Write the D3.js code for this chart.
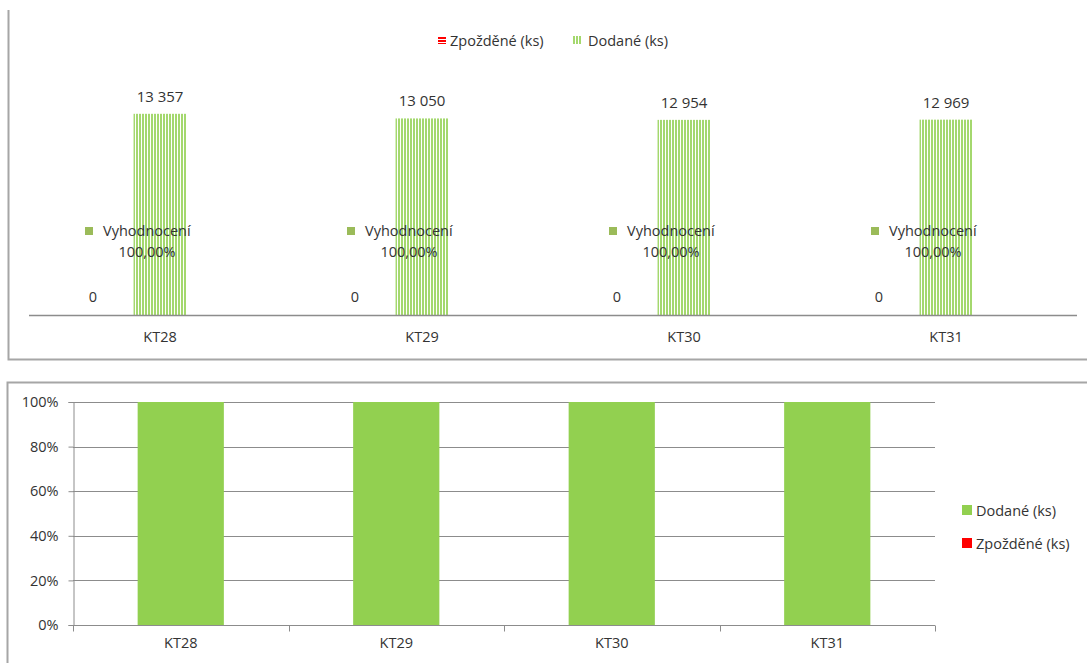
<!DOCTYPE html>
<html>
<head>
<meta charset="utf-8">
<script src="https://cdn.jsdelivr.net/npm/d3@7"></script>
<style>
  body { margin: 0; background: #fff; }
  svg text { font-family: "Open Sans", sans-serif; fill: #333; }
</style>
</head>
<body>
<div id="chart"></div>
<script>
var categories = ["KT28", "KT29", "KT30", "KT31"];
var dodane = [13357, 13050, 12954, 12969];
var zpozdene = [0, 0, 0, 0];
var vyhodnoceni = [1, 1, 1, 1];
var series = ["Zpožděné (ks)", "Dodané (ks)"];
var pctTicks = [0, 0.2, 0.4, 0.6, 0.8, 1];

var green = "#92d050", red = "#ff0000", gray = "#8c8c8c", frame = "#a6a6a6";
var fs = 14.5;

var cz = d3.formatLocale({ decimal: ",", thousands: "\u00a0", grouping: [3], currency: ["", " Kč"] });
var fmtNum = cz.format(",d");
var fmtPct = cz.format(".2%");

var svg = d3.select("#chart").append("svg")
    .attr("width", 1087).attr("height", 663);

var defs = svg.append("defs");
var vpat = defs.append("pattern").attr("id", "vhatch")
    .attr("patternUnits", "userSpaceOnUse").attr("width", 3).attr("height", 4);
vpat.append("rect").attr("width", 3).attr("height", 4).attr("fill", "#ffffff");
vpat.append("rect").attr("width", 2).attr("height", 4).attr("fill", "#a4d86e");
var hpat = defs.append("pattern").attr("id", "hhatch")
    .attr("patternUnits", "userSpaceOnUse").attr("width", 4).attr("height", 3);
hpat.append("rect").attr("width", 4).attr("height", 3).attr("fill", "#ffffff");
hpat.append("rect").attr("width", 4).attr("height", 2).attr("fill", red);

// ---------- top chart ----------
svg.append("path")
    .attr("d", "M8.5,10 V359.5 H1087")
    .attr("fill", "none").attr("stroke", frame).attr("stroke-width", 2);

var topG = svg.append("g");
var x0 = d3.scaleBand().domain(categories).range([29, 1077]);
var x1 = d3.scaleBand().domain(series).range([-93.5, 26.5]).paddingInner(0.21);
var y = d3.scaleLinear().domain([0, 16000]).range([315, 74]);

var rows = categories.map(function(c, i) {
    return { cat: c, z: zpozdene[i], d: dodane[i], v: vyhodnoceni[i] };
});

var cg = topG.selectAll("g.cat").data(rows).enter().append("g")
    .attr("class", "cat")
    .attr("transform", function(d) { return "translate(" + (x0(d.cat) + x0.bandwidth() / 2) + ",0)"; });

cg.append("rect")
    .attr("x", x1("Dodané (ks)"))
    .attr("width", x1.bandwidth())
    .attr("y", function(d) { return y(d.d); })
    .attr("height", function(d) { return y(0) - y(d.d); })
    .attr("fill", "url(#vhatch)");
cg.append("rect")
    .attr("x", x1("Zpožděné (ks)"))
    .attr("width", x1.bandwidth())
    .attr("y", function(d) { return y(d.z); })
    .attr("height", function(d) { return y(0) - y(d.z); })
    .attr("fill", "url(#hhatch)");

cg.append("text")
    .attr("x", x1("Dodané (ks)") + x1.bandwidth() / 2)
    .attr("y", function(d) { return y(d.d) - 12; })
    .attr("text-anchor", "middle").attr("font-size", 15)
    .text(function(d) { return fmtNum(d.d); });
cg.append("text")
    .attr("x", -67)
    .attr("y", function(d) { return y(d.z) - 13; })
    .attr("text-anchor", "middle").attr("font-size", fs)
    .text(function(d) { return fmtNum(d.z); });

// Vyhodnocení labels with legend key
cg.append("rect")
    .attr("x", -75).attr("y", 227).attr("width", 8).attr("height", 8)
    .attr("fill", "#9bbb59");
cg.append("text")
    .attr("x", -57).attr("y", 236).attr("font-size", fs)
    .text("Vyhodnocení");
cg.append("text")
    .attr("x", -13).attr("y", 257).attr("font-size", fs)
    .attr("text-anchor", "middle")
    .text(function(d) { return fmtPct(d.v); });

topG.append("line")
    .attr("x1", 29).attr("x2", 1077).attr("y1", 315.5).attr("y2", 315.5)
    .attr("stroke", gray).attr("stroke-width", 1.5);

topG.selectAll("text.xl").data(categories).enter().append("text")
    .attr("class", "xl")
    .attr("x", function(d) { return x0(d) + x0.bandwidth() / 2; })
    .attr("y", 342).attr("text-anchor", "middle").attr("font-size", fs)
    .text(function(d) { return d; });

// top legend
var tl = topG.append("g").attr("transform", "translate(438,40)");
tl.append("rect").attr("x", 0).attr("y", -4).attr("width", 8).attr("height", 8).attr("fill", "url(#hhatch)");
tl.append("text").attr("x", 12).attr("y", 5.5).attr("font-size", fs).text(series[0]);
tl.append("rect").attr("x", 135).attr("y", -4).attr("width", 8).attr("height", 8).attr("fill", "url(#vhatch)");
tl.append("text").attr("x", 150).attr("y", 5.5).attr("font-size", fs).text(series[1]);

// ---------- bottom chart ----------
svg.append("path")
    .attr("d", "M7.5,663 V382.5 H1087")
    .attr("fill", "none").attr("stroke", frame).attr("stroke-width", 2);

var bot = svg.append("g");
var bx = d3.scaleBand().domain(categories).range([73, 935]).paddingInner(0.6).paddingOuter(0.3);
var by = d3.scaleLinear().domain([0, 1]).range([625, 402]);

bot.selectAll("line.grid").data(pctTicks.filter(function(t) { return t > 0; })).enter().append("line")
    .attr("class", "grid")
    .attr("x1", 73).attr("x2", 935)
    .attr("y1", function(d) { return Math.round(by(d)) + 0.5; })
    .attr("y2", function(d) { return Math.round(by(d)) + 0.5; })
    .attr("stroke", gray);

var stackData = categories.map(function(c, i) {
    return { cat: c, "Dodané (ks)": dodane[i], "Zpožděné (ks)": zpozdene[i] };
});
var stacked = d3.stack().keys(["Dodané (ks)", "Zpožděné (ks)"]).offset(d3.stackOffsetExpand)(stackData);
var colors = { "Dodané (ks)": green, "Zpožděné (ks)": red };

bot.selectAll("g.layer").data(stacked).enter().append("g")
    .attr("class", "layer")
    .attr("fill", function(d) { return colors[d.key]; })
    .selectAll("rect").data(function(d) { return d; }).enter().append("rect")
    .attr("x", function(d) { return bx(d.data.cat); })
    .attr("width", bx.bandwidth())
    .attr("y", function(d) { return by(d[1]); })
    .attr("height", function(d) { return by(d[0]) - by(d[1]); });

var yAxis = d3.axisLeft(by).tickValues(pctTicks).tickFormat(d3.format(".0%")).tickSize(5).tickPadding(10);
var yg = bot.append("g").attr("transform", "translate(73.5,0)").call(yAxis);
yg.select(".domain").attr("stroke", gray);
yg.selectAll(".tick line").attr("stroke", gray);
yg.selectAll("text").attr("font-size", fs).attr("font-family", "Open Sans").attr("fill", "#333");

var xg = bot.append("g").attr("transform", "translate(0,625.5)");
xg.append("line").attr("x1", 73).attr("x2", 935).attr("stroke", gray);
var xbounds = d3.scaleBand().domain(categories).range([73, 935]);
xg.selectAll("line.tk").data(categories.concat(["end"])).enter().append("line")
    .attr("class", "tk")
    .attr("x1", function(d, i) { return Math.round(73 + i * xbounds.step()) + 0.5; })
    .attr("x2", function(d, i) { return Math.round(73 + i * xbounds.step()) + 0.5; })
    .attr("y1", 0).attr("y2", 6).attr("stroke", gray);
xg.selectAll("text").data(categories).enter().append("text")
    .attr("x", function(d) { return xbounds(d) + xbounds.bandwidth() / 2; })
    .attr("y", 22.5).attr("text-anchor", "middle").attr("font-size", fs)
    .text(function(d) { return d; });

var bl = bot.selectAll("g.leg").data(["Dodané (ks)", "Zpožděné (ks)"]).enter().append("g")
    .attr("class", "leg")
    .attr("transform", function(d, i) { return "translate(962," + (510 + i * 33) + ")"; });
bl.append("rect").attr("x", 0).attr("y", -5).attr("width", 10).attr("height", 10)
    .attr("fill", function(d) { return colors[d]; });
bl.append("text").attr("x", 14).attr("y", 5.5).attr("font-size", fs).text(function(d) { return d; });
</script>
</body>
</html>
